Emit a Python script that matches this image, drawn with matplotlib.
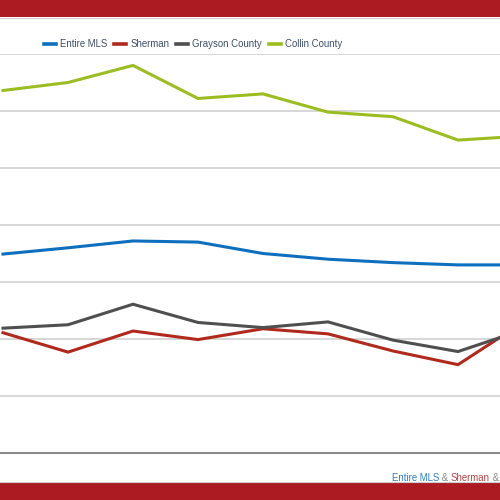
import matplotlib.pyplot as plt
from matplotlib.patches import Rectangle
from matplotlib.lines import Line2D

plt.rcParams['font.family'] = ['Liberation Sans', 'DejaVu Sans']

# 値はグリッド1目盛り = 10 として読み取った
periods = list(range(9))
entire_mls = [34.9, 36.0, 37.2, 37.0, 35.0, 34.0, 33.4, 33.0, 33.0]
sherman = [21.1, 17.7, 21.4, 19.9, 21.8, 20.9, 17.9, 15.5, 22.9]
grayson = [21.9, 22.5, 26.1, 22.9, 22.0, 23.0, 19.8, 17.8, 21.6]
collin = [63.6, 65.0, 68.0, 62.2, 63.0, 59.8, 59.0, 54.9, 55.6]

series = [
    ('Entire MLS', entire_mls, '#0f6fbf'),
    ('Sherman', sherman, '#b0291c'),
    ('Grayson County', grayson, '#4f4f4f'),
    ('Collin County', collin, '#9cbd22'),
]

band_red = '#ad1b22'
text_col = '#3f4d6b'

fig = plt.figure(figsize=(5, 5), dpi=100)
ax = fig.add_axes([0, 47 / 500, 1, 399 / 500])

for name, vals, col in series:
    ax.plot(periods, vals, color=col, lw=2.2, label=name, solid_joinstyle='miter')

ax.set_xlim(-3 / 65, 497 / 65)
ax.set_ylim(0, 70)
ax.set_yticks(range(0, 71, 10))
ax.set_xticks([])
ax.tick_params(axis='y', length=0, labelleft=False)
ax.grid(axis='y', color='#d4d4d4', lw=1.3)
ax.set_axisbelow(True)
for s in ['top', 'left', 'right']:
    ax.spines[s].set_visible(False)
ax.spines['bottom'].set_color('#8a8a8a')
ax.spines['bottom'].set_linewidth(1.5)

# 凡例
handles = [Line2D([], [], color=c, lw=2.6) for _, _, c in series]
fig.legend(handles, [n for n, _, _ in series], loc='center left',
           bbox_to_anchor=(44 / 500, 1 - 44.3 / 500), ncol=4, frameon=False,
           fontsize=6.9, handlelength=1.27, handletextpad=0.42,
           columnspacing=0.7, borderpad=0, borderaxespad=0, labelcolor=text_col)

# 上下の赤帯
fig.add_artist(Rectangle((0, 1 - 17 / 500), 1, 17 / 500, transform=fig.transFigure,
                         color=band_red, lw=0))
fig.add_artist(Rectangle((0, 0), 1, 17 / 500, transform=fig.transFigure,
                         color=band_red, lw=0))
fig.add_artist(Line2D([0, 1], [1 - 18 / 500] * 2, transform=fig.transFigure,
                      color='#cfcfcf', lw=0.8))
fig.add_artist(Line2D([0, 1], [18 / 500] * 2, transform=fig.transFigure,
                      color='#cfcfcf', lw=0.8))

# 右下の色分けテキスト（前の文字列の右端に続けて配置）
parts = [('Entire MLS', '#2f7fc7'), (' & ', '#8a8a8a'), ('Sherman', '#b5454a'),
         (' & ', '#8a8a8a'), ('Grayson County', '#c09a50')]
fig.canvas.draw()
renderer = fig.canvas.get_renderer()
x = 391.7 / 500
y = 1 - 481 / 500
for txt, col in parts:
    t = fig.text(x, y, txt, color=col, fontsize=6.9, va='baseline')
    bb = t.get_window_extent(renderer)
    x = fig.transFigure.inverted().transform((bb.x1, bb.y0))[0]

fig.savefig('out.png', dpi=100)
